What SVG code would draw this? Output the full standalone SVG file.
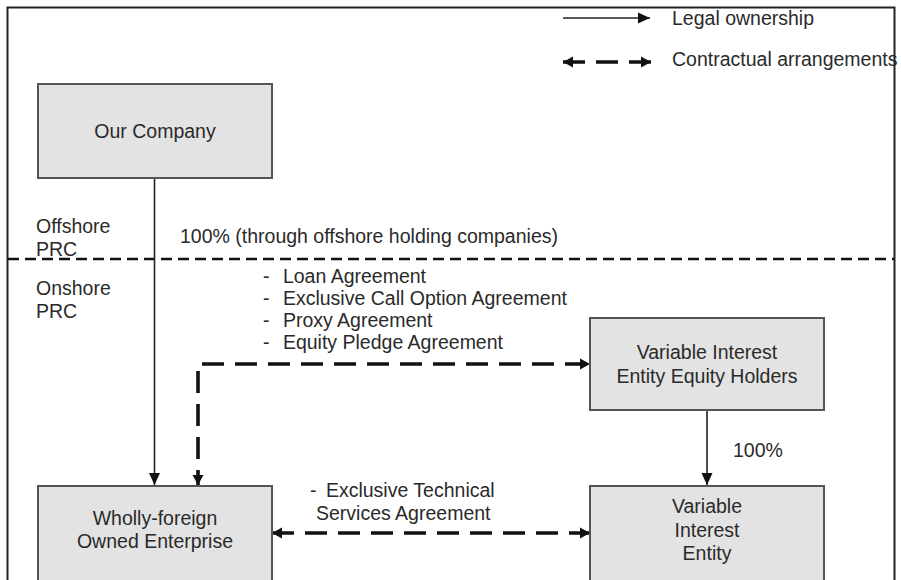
<svg xmlns="http://www.w3.org/2000/svg" width="901" height="580" viewBox="0 0 901 580">
<defs>
<style>
text{font-family:"Liberation Sans",Arial,sans-serif;font-size:19.5px;fill:#2a2a2a}
.c{text-anchor:middle}
.box{fill:#e3e3e3;stroke:#555;stroke-width:2}
.solid{stroke:#222;stroke-width:1.6;fill:none}
.dash{stroke:#111;stroke-width:3.6;fill:none;stroke-dasharray:22 11}
.bound{stroke:#111;stroke-width:2.6;fill:none;stroke-dasharray:11 6}
</style>
<marker id="a" markerUnits="userSpaceOnUse" markerWidth="12" markerHeight="12" viewBox="0 0 12 12" refX="12" refY="6" orient="auto-start-reverse"><path d="M0,0.5 L12,6 L0,11.5 z" fill="#111"/></marker>
<marker id="b" markerUnits="userSpaceOnUse" markerWidth="10" markerHeight="12" viewBox="0 0 10 12" refX="10" refY="6" orient="auto-start-reverse"><path d="M0,0.5 L10,6 L0,11.5 z" fill="#111"/></marker>
</defs>
<rect x="7.5" y="7.5" width="887" height="590" fill="#fff" stroke="#222" stroke-width="2"/>
<g id="legend">
<line class="solid" x1="563" y1="18" x2="650" y2="18" stroke-width="2" marker-end="url(#a)"/>
<text x="672" y="25">Legal ownership</text>
<path class="dash" d="M563,62 H651" stroke-dasharray="34 16" marker-start="url(#b)" marker-end="url(#b)"/>
<text x="672" y="66">Contractual arrangements</text>
</g>
<g id="boundary">
<line class="bound" x1="8" y1="259" x2="894" y2="259"/>
<text x="36" y="233">Offshore</text>
<text x="36" y="256">PRC</text>
<text x="36" y="295">Onshore</text>
<text x="36" y="318">PRC</text>
</g>
<g id="connectors">
<line class="solid" x1="154.5" y1="178" x2="154.5" y2="485" marker-end="url(#a)"/>
<text x="180" y="243">100% (through offshore holding companies)</text>
<path class="dash" d="M198,485 V364 H590" stroke-dashoffset="7" marker-start="url(#b)" marker-end="url(#b)"/>
<line class="solid" x1="707" y1="410" x2="707" y2="485" marker-end="url(#a)"/>
<text x="733" y="457">100%</text>
<path class="dash" d="M272,533 H590" marker-start="url(#b)" marker-end="url(#b)"/>
<text x="263" y="283">- <tspan dx="8">Loan Agreement</tspan></text>
<text x="263" y="305">- <tspan dx="8">Exclusive Call Option Agreement</tspan></text>
<text x="263" y="327">- <tspan dx="8">Proxy Agreement</tspan></text>
<text x="263" y="349">- <tspan dx="8">Equity Pledge Agreement</tspan></text>
<text x="310" y="497">- <tspan dx="4">Exclusive Technical</tspan></text>
<text x="316" y="520">Services Agreement</text>
</g>
<g id="our-company">
<rect class="box" x="38" y="84" width="234" height="94"/>
<text class="c" x="155" y="138">Our Company</text>
</g>
<g id="vie-holders">
<rect class="box" x="590" y="318" width="234" height="92"/>
<text class="c" x="707" y="359">Variable Interest</text>
<text class="c" x="707" y="383">Entity Equity Holders</text>
</g>
<g id="wfoe">
<rect class="box" x="38" y="486" width="234" height="110"/>
<text class="c" x="155" y="525">Wholly-foreign</text>
<text class="c" x="155" y="548">Owned Enterprise</text>
</g>
<g id="vie">
<rect class="box" x="590" y="486" width="234" height="110"/>
<text class="c" x="707" y="513">Variable</text>
<text class="c" x="707" y="537">Interest</text>
<text class="c" x="707" y="560">Entity</text>
</g>
</svg>
